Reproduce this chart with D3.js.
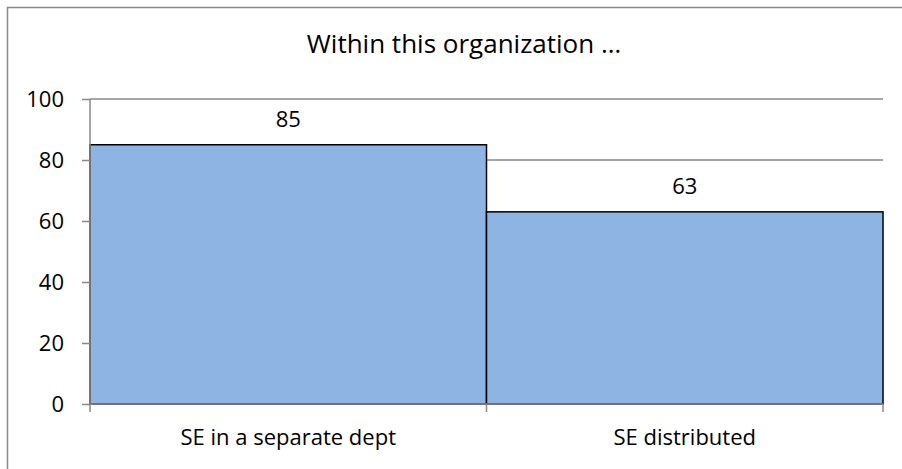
<!DOCTYPE html>
<html>
<head>
<meta charset="utf-8">
<script src="https://cdn.jsdelivr.net/npm/d3@7"></script>
<style>
  body { margin: 0; background: #fff; }
  svg { font-family: "Open Sans", "Noto Sans", sans-serif; }
</style>
</head>
<body>
<div id="chart"></div>
<script>
var categories = ["SE in a separate dept", "SE distributed"];
var values = [85, 63];
var yTicks = [0, 20, 40, 60, 80, 100];
var title = "Within this organization \u2026";

var width = 902, height = 469;
var margin = {top: 99, right: 19, bottom: 65, left: 90};
var innerW = width - margin.left - margin.right,
    innerH = height - margin.top - margin.bottom;

var svg = d3.select("#chart").append("svg")
  .attr("width", width)
  .attr("height", height);

// chart border (only left + top fall inside the picture)
svg.append("rect")
  .attr("x", 7.5).attr("y", 7.5)
  .attr("width", 910).attr("height", 480)
  .attr("fill", "none")
  .attr("stroke", "#898989")
  .attr("stroke-width", 1.5);

svg.append("text")
  .attr("x", 464).attr("y", 53)
  .attr("text-anchor", "middle")
  .attr("font-size", 26)
  .attr("fill", "#000")
  .text(title);

var g = svg.append("g")
  .attr("transform", "translate(" + margin.left + "," + margin.top + ")");

var x = d3.scaleBand()
  .domain(categories)
  .range([0, innerW])
  .padding(0);

var y = d3.scaleLinear()
  .domain([0, 100])
  .range([innerH, 0]);

// gridlines
g.selectAll(".grid")
  .data(yTicks.filter(function(d) { return d > 0; }))
  .enter().append("line")
    .attr("x1", 0).attr("x2", innerW)
    .attr("y1", function(d) { return y(d); })
    .attr("y2", function(d) { return y(d); })
    .attr("stroke", "#898989")
    .attr("stroke-width", 1.3);

// bars
g.selectAll(".bar")
  .data(values)
  .enter().append("rect")
    .attr("x", function(d, i) { return x(categories[i]); })
    .attr("y", function(d) { return y(d); })
    .attr("width", x.bandwidth())
    .attr("height", function(d) { return innerH - y(d); })
    .attr("fill", "#8eb4e3")
    .attr("stroke", "#000")
    .attr("stroke-width", 1.5);

// value labels
g.selectAll(".lbl")
  .data(values)
  .enter().append("text")
    .attr("x", function(d, i) { return x(categories[i]) + x.bandwidth() / 2; })
    .attr("y", function(d) { return y(d) - 18; })
    .attr("text-anchor", "middle")
    .attr("font-size", 22)
    .text(function(d) { return d; });

// y axis
var yAxis = d3.axisLeft(y)
  .tickValues(yTicks)
  .tickSize(8)
  .tickPadding(18);

var ya = g.append("g").call(yAxis);
ya.select(".domain").attr("stroke", "#898989").attr("stroke-width", 1.5)
  .attr("d", "M0," + innerH + "V0");
ya.selectAll(".tick line").attr("stroke", "#898989").attr("stroke-width", 1.5);
ya.selectAll(".tick text").attr("font-size", 22).attr("fill", "#000")
  .attr("font-family", "'Open Sans', sans-serif");

// x axis
var xa = g.append("g").attr("transform", "translate(0," + innerH + ")")
  .call(d3.axisBottom(x).tickSize(0).tickPadding(25));
xa.select(".domain").attr("stroke", "#898989").attr("stroke-width", 1.5)
  .attr("d", "M0,0H" + innerW);
xa.selectAll(".tick text").attr("font-size", 22).attr("fill", "#000")
  .attr("font-family", "'Open Sans', sans-serif");

// category boundary ticks
var bounds = categories.map(function(c) { return x(c); }).concat([innerW]);
xa.selectAll(".btick")
  .data(bounds)
  .enter().append("line")
    .attr("x1", function(d) { return d; }).attr("x2", function(d) { return d; })
    .attr("y1", 0).attr("y2", 8)
    .attr("stroke", "#898989")
    .attr("stroke-width", 1.5);
</script>
</body>
</html>
